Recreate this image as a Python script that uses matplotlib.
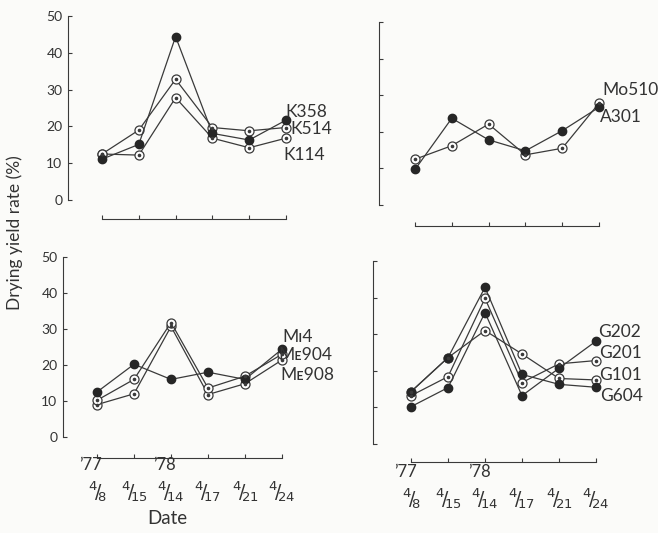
import matplotlib
matplotlib.use('Agg')
import matplotlib.pyplot as plt

# dates of measurement
dates = ['4/8', '4/15', '4/14', '4/17', '4/21', '4/24']
date_tex = [r'${}^{4}\!/\!{}_{8}$', r'${}^{4}\!/\!{}_{15}$', r'${}^{4}\!/\!{}_{14}$',
            r'${}^{4}\!/\!{}_{17}$', r'${}^{4}\!/\!{}_{21}$', r'${}^{4}\!/\!{}_{24}$']
years = ['\u201977', '\u201978']

# drying yield rate (%) per cultivar
k358 = [11.1, 15.1, 44.4, 18.1, 16.3, 21.7]
k514 = [12.5, 19.0, 32.8, 19.7, 18.8, 19.7]
k114 = [12.5, 12.2, 27.8, 16.8, 14.2, 16.8]

mo510 = [12.5, 16.2, 22.1, 13.7, 15.5, 27.8]
a301 = [9.7, 23.7, 17.8, 14.8, 20.3, 26.7]

mi4 = [12.5, 20.2, 16.0, 18.0, 16.0, 24.4]
me904 = [10.2, 16.0, 31.8, 13.6, 16.9, 23.0]
me908 = [9.0, 12.0, 30.7, 11.8, 14.8, 21.4]

g202 = [10.2, 15.4, 35.9, 13.2, 20.7, 28.1]
g201 = [13.2, 18.4, 39.8, 16.8, 21.9, 22.8]
g101 = [14.3, 23.6, 31.0, 24.6, 17.9, 17.5]
g604 = [14.3, 23.6, 42.8, 19.0, 16.3, 15.5]

W, H = 658, 533
INK = '#3a3a3a'
FONT = ['Lato', 'DejaVu Sans']
plt.rcParams['font.family'] = FONT

fig = plt.figure(figsize=(W / 100, H / 100), dpi=100, facecolor='#fbfbf9')


def make_ax(spine_x, y0, y50, x0, step, xline, ylabels):
    lo = -(x0 - spine_x) / step
    hi = 5 + 12 / step
    ax = fig.add_axes([spine_x / W, (H - y0) / H,
                       (x0 + 5 * step + 12 - spine_x) / W, (y0 - y50) / H])
    ax.set_facecolor('none')
    ax.set_xlim(lo, hi)
    ax.set_ylim(0, 50)
    for s in ('top', 'right'):
        ax.spines[s].set_visible(False)
    ax.spines['left'].set_color(INK)
    ax.spines['left'].set_linewidth(0.8)
    ax.spines['bottom'].set_color(INK)
    ax.spines['bottom'].set_linewidth(0.8)
    ax.spines['bottom'].set_position(('outward', (xline - y0) * 0.72))
    ax.spines['bottom'].set_bounds(0, 5)
    ax.set_yticks([0, 10, 20, 30, 40, 50])
    ax.set_xticks(range(6))
    ax.tick_params(axis='both', direction='in', length=3, width=0.8, color=INK)
    ax.tick_params(axis='y', pad=4, labelsize=10, labelcolor='#333333')
    if not ylabels:
        ax.set_yticklabels([])
    ax.set_xticklabels([])
    return ax


def draw(ax, vals, filled):
    x = range(len(vals))
    if filled:
        ax.plot(x, vals, '-o', color=INK, lw=0.9, ms=6, mfc='#262626',
                mec='#262626', clip_on=False, zorder=3)
    else:
        ax.plot(x, vals, '-o', color=INK, lw=0.9, ms=6.5, mfc='white',
                mec=INK, mew=0.9, clip_on=False, zorder=3)
        ax.plot(x, vals, 'o', ms=1.6, color=INK, clip_on=False, zorder=4)


def label(ax, x, y, s):
    ax.text(x, y, s, fontsize=12.5, color='#333333', ha='left', va='center',
            clip_on=False, family=FONT)


def date_axis(ax, off):
    for i, t in enumerate(date_tex):
        ax.annotate(t, xy=(i, 0), xycoords=('data', 'axes fraction'),
                    xytext=(0, -39), textcoords='offset points',
                    ha='center', va='center', fontsize=13.5, color='#333333')
    for i, y in zip((0, 2), years):
        ax.annotate(y, xy=(i, 0), xycoords=('data', 'axes fraction'),
                    xytext=(off, -20), textcoords='offset points',
                    ha='center', va='center', fontsize=12, color='#333333')


# upper left
ax1 = make_ax(68, 200, 16, 102, 36.8, 219, True)
draw(ax1, k114, False)
draw(ax1, k514, False)
draw(ax1, k358, True)
label(ax1, 4.97, 24.0, 'K358')
label(ax1, 5.11, 19.4, 'K514')
label(ax1, 4.92, 12.2, 'K114')

# upper right
ax2 = make_ax(379, 205, 22, 415, 36.8, 226, False)
draw(ax2, mo510, False)
draw(ax2, a301, True)
label(ax2, 5.08, 31.4, 'Mo510')
label(ax2, 5.03, 24.0, 'A301')

# lower left
ax3 = make_ax(63, 437, 257, 97, 37, 458, True)
draw(ax3, me908, False)
draw(ax3, me904, False)
draw(ax3, mi4, True)
label(ax3, 5.0, 27.8, 'M\u026a4')
label(ax3, 4.89, 22.8, 'M\u1d07904')
label(ax3, 4.95, 17.2, 'M\u1d07908')
date_axis(ax3, -5)
ax3.annotate('Date', xy=(1.9, 0), xycoords=('data', 'axes fraction'),
             xytext=(0, -59), textcoords='offset points',
             ha='center', va='center', fontsize=13.5, color='#333333')

# lower right
ax4 = make_ax(373, 444, 261, 411, 37, 462, False)
draw(ax4, g201, False)
draw(ax4, g101, False)
draw(ax4, g202, True)
draw(ax4, g604, True)
label(ax4, 5.05, 30.6, 'G202')
label(ax4, 5.08, 24.9, 'G201')
label(ax4, 5.08, 18.9, 'G101')
label(ax4, 5.11, 13.1, 'G604')
date_axis(ax4, -4)

fig.text(15 / W, 1 - 233 / H, 'Drying yield rate (%)', rotation=90,
         ha='center', va='center', fontsize=12.5, color='#333333')

fig.savefig('out.png', dpi=100, facecolor=fig.get_facecolor())
